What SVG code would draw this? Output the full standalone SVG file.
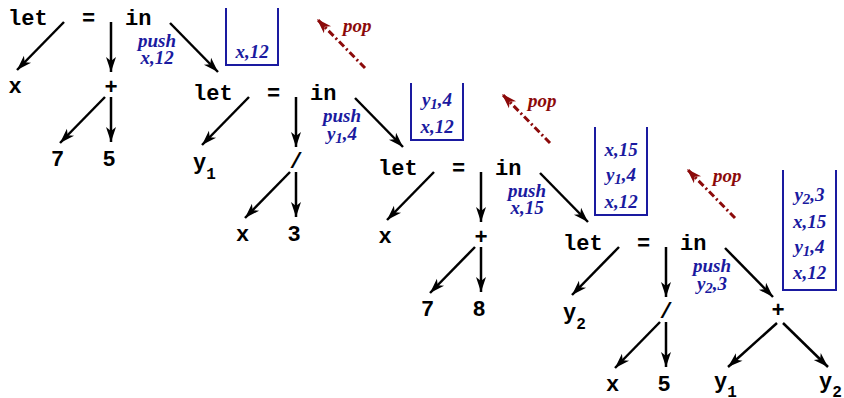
<svg xmlns="http://www.w3.org/2000/svg" width="844" height="398" viewBox="0 0 844 398">
<defs>
<marker id="ah" markerUnits="userSpaceOnUse" markerWidth="16" markerHeight="12" refX="15" refY="5" orient="auto" overflow="visible">
<path d="M0,0 L15,5 L0,10 L4,5 Z" fill="#000"/>
</marker>
<marker id="ahr" markerUnits="userSpaceOnUse" markerWidth="16" markerHeight="12" refX="15" refY="5" orient="auto" overflow="visible">
<path d="M0,0 L15,5 L0,10 L4,5 Z" fill="#8c0a0a"/>
</marker>
<style>
.t{font-family:"Liberation Mono","DejaVu Sans Mono",monospace;font-weight:bold;font-size:22px;fill:#000}
.m{text-anchor:middle}
.s{font-size:16px}
.e{stroke:#000;stroke-width:2.5;fill:none;marker-end:url(#ah)}
.b{font-family:"Liberation Serif","DejaVu Serif",serif;font-weight:bold;font-style:italic;font-size:19px;fill:#1a1aa0;text-anchor:middle}
.bs{font-size:15px}
.stk{stroke:#1a1aa0;stroke-width:2;fill:none}
.pop{stroke:#8c0a0a;stroke-width:3;fill:none;stroke-dasharray:7,3,2,3;marker-end:url(#ahr)}
.pt{font-family:"Liberation Serif","DejaVu Serif",serif;font-weight:bold;font-style:italic;font-size:19px;fill:#8c0a0a}
</style>
</defs>
<rect width="844" height="398" fill="#fff"/>

<g id="connectors">
<line class="e" x1="64" y1="22" x2="17" y2="70"/>
<line class="e" x1="111" y1="22" x2="111" y2="72"/>
<line class="e" x1="170" y1="23" x2="218" y2="72"/>
<line class="e" x1="105" y1="97" x2="60" y2="143"/>
<line class="e" x1="111" y1="97" x2="111" y2="142"/>
<line class="e" x1="249" y1="97" x2="202" y2="145"/>
<line class="e" x1="296" y1="97" x2="296" y2="147"/>
<line class="e" x1="355" y1="98" x2="403" y2="147"/>
<line class="e" x1="290" y1="172" x2="245" y2="218"/>
<line class="e" x1="296" y1="172" x2="296" y2="217"/>
<line class="e" x1="434" y1="172" x2="387" y2="220"/>
<line class="e" x1="481" y1="172" x2="481" y2="222"/>
<line class="e" x1="540" y1="173" x2="588" y2="222"/>
<line class="e" x1="475" y1="247" x2="430" y2="293"/>
<line class="e" x1="481" y1="247" x2="481" y2="292"/>
<line class="e" x1="619" y1="247" x2="572" y2="295"/>
<line class="e" x1="666" y1="247" x2="666" y2="297"/>
<line class="e" x1="725" y1="248" x2="773" y2="297"/>
<line class="e" x1="660" y1="322" x2="615" y2="368"/>
<line class="e" x1="666" y1="322" x2="666" y2="367"/>
<line class="e" x1="777" y1="323" x2="728" y2="367"/>
<line class="e" x1="783" y1="323" x2="828" y2="367"/>
<line class="pop" x1="365" y1="68" x2="317" y2="19"/>
<line class="pop" x1="550" y1="143" x2="502" y2="94"/>
<line class="pop" x1="735" y1="218" x2="687" y2="169"/>
</g>

<g id="let0"><text class="t" x="8" y="25">let</text></g>
<g id="eq0"><text class="t" x="82" y="25">=</text></g>
<g id="in0"><text class="t" x="125" y="25">in</text></g>
<g id="x0"><text class="t m" x="15" y="93">x</text></g>
<g id="plus0"><text class="t m" x="111" y="94">+</text></g>
<g id="n7a"><text class="t m" x="57.5" y="166">7</text></g>
<g id="n5a"><text class="t m" x="109" y="166">5</text></g>
<g id="push0"><text class="b" x="157" y="47">push</text><text class="b" x="157" y="64">x,12</text></g>
<g id="stack0"><polyline class="stk" points="226,8 226,65 278,65 278,8"/><text class="b" x="252" y="58">x,12</text></g>
<g id="pop0"><text class="pt" x="343" y="32">pop</text></g>

<g id="let1"><text class="t" x="193" y="100">let</text></g>
<g id="eq1"><text class="t" x="267" y="100">=</text></g>
<g id="in1"><text class="t" x="310" y="100">in</text></g>
<g id="y1a"><text class="t" x="193" y="169">y<tspan class="s" dy="10">1</tspan></text></g>
<g id="div1"><text class="t m" x="296" y="168">/</text></g>
<g id="x1"><text class="t m" x="242.5" y="241">x</text></g>
<g id="n3"><text class="t m" x="294" y="241">3</text></g>
<g id="push1"><text class="b" x="342" y="122">push</text><text class="b" x="342" y="140">y<tspan class="bs" dy="3">1</tspan><tspan dy="-3">,4</tspan></text></g>
<g id="stack1"><polyline class="stk" points="411,83 411,140 463,140 463,83"/><text class="b" x="437" y="106">y<tspan class="bs" dy="3">1</tspan><tspan dy="-3">,4</tspan></text><text class="b" x="437" y="133">x,12</text></g>
<g id="pop1"><text class="pt" x="528" y="107">pop</text></g>

<g id="let2"><text class="t" x="378" y="175">let</text></g>
<g id="eq2"><text class="t" x="452" y="175">=</text></g>
<g id="in2"><text class="t" x="495" y="175">in</text></g>
<g id="x2"><text class="t m" x="385" y="243">x</text></g>
<g id="plus2"><text class="t m" x="481" y="244">+</text></g>
<g id="n7b"><text class="t m" x="427.5" y="316">7</text></g>
<g id="n8"><text class="t m" x="479" y="316">8</text></g>
<g id="push2"><text class="b" x="527" y="197">push</text><text class="b" x="527" y="214">x,15</text></g>
<g id="stack2"><polyline class="stk" points="595,127 595,215 647,215 647,127"/><text class="b" x="621" y="156">x,15</text><text class="b" x="621" y="181">y<tspan class="bs" dy="3">1</tspan><tspan dy="-3">,4</tspan></text><text class="b" x="621" y="208">x,12</text></g>
<g id="pop2"><text class="pt" x="713" y="182">pop</text></g>

<g id="let3"><text class="t" x="563" y="250">let</text></g>
<g id="eq3"><text class="t" x="637" y="250">=</text></g>
<g id="in3"><text class="t" x="680" y="250">in</text></g>
<g id="y2a"><text class="t" x="563" y="319">y<tspan class="s" dy="10">2</tspan></text></g>
<g id="div3"><text class="t m" x="666" y="318">/</text></g>
<g id="x3"><text class="t m" x="612.5" y="391">x</text></g>
<g id="n5b"><text class="t m" x="664" y="391">5</text></g>
<g id="plus3"><text class="t m" x="778" y="317">+</text></g>
<g id="y1b"><text class="t" x="714" y="388">y<tspan class="s" dy="9">1</tspan></text></g>
<g id="y2b"><text class="t" x="819" y="388">y<tspan class="s" dy="9">2</tspan></text></g>
<g id="push3"><text class="b" x="712" y="272">push</text><text class="b" x="712" y="290">y<tspan class="bs" dy="3">2</tspan><tspan dy="-3">,3</tspan></text></g>
<g id="stack3"><polyline class="stk" points="783,170 783,290 836,290 836,170"/><text class="b" x="809.5" y="201">y<tspan class="bs" dy="3">2</tspan><tspan dy="-3">,3</tspan></text><text class="b" x="809.5" y="228">x,15</text><text class="b" x="809.5" y="253">y<tspan class="bs" dy="3">1</tspan><tspan dy="-3">,4</tspan></text><text class="b" x="809.5" y="279">x,12</text></g>
</svg>
